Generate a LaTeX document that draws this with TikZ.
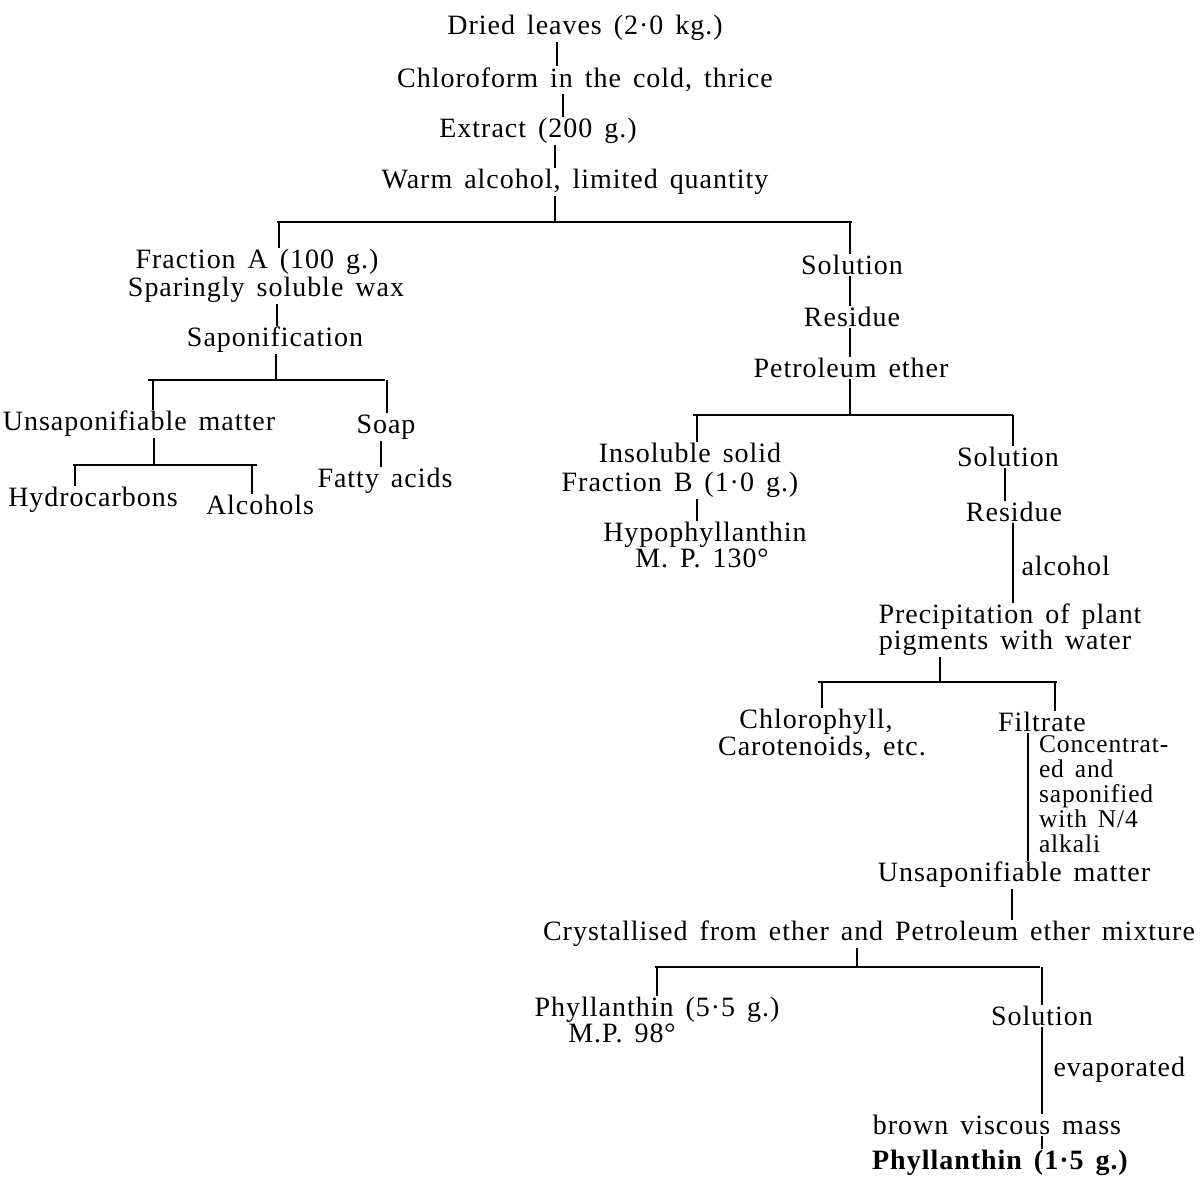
\documentclass[tikz,border=0pt]{standalone}
\usepackage{fontspec}
\setmainfont{Liberation Serif}[WordSpace=1.5,LetterSpace=3.5]
\begin{document}
\begin{tikzpicture}[x=1pt,y=-1pt,
  every node/.style={inner sep=1.5pt,outer sep=0pt,font=\fontsize{28}{26}\selectfont},
  lbl/.style={anchor=west,align=left},
  ln/.style={line width=1.2pt},
  thk/.style={line width=2.4pt}]
\useasboundingbox (0,0) rectangle (1203,1184);
% main stem
\node (d1) at (585,28) {Dried leaves (2·0 kg.)};
\node (d2) at (585,80) {Chloroform in the cold, thrice};
\node (d3) at (538,131) {Extract (200 g.)};
\node (d4) at (575,182) {Warm alcohol, limited quantity};
\draw[ln] (557,0 |- d1.south) -- (557,0 |- d2.north);
\draw[ln] (563,0 |- d2.south) -- (563,0 |- d3.north);
\draw[ln] (555,0 |- d3.south) -- (555,0 |- d4.north);
\coordinate (b1l) at (277,222);
\coordinate (b1r) at (852,222);
\coordinate (b1m) at (555,222);
\draw[ln] (555,0 |- d4.south) -- (b1m);
\draw[ln] (b1l) -- (b1r);
% left branch
\node (fa1) at (257,262) {Fraction A (100 g.)};
\node (fa2) at (266,290) {Sparingly soluble wax};
\node (sap) at (275,340) {Saponification};
\draw[ln] (279,222) -- (279,0 |- fa1.north);
\draw[ln] (277,0 |- fa2.south) -- (277,0 |- sap.north);
\coordinate (b2l) at (148,380);
\coordinate (b2r) at (385,380);
\draw[ln] (276,0 |- sap.south) -- (276,380);
\draw[ln] (b2l) -- (b2r);
\node (un) at (139,424) {Unsaponifiable matter};
\node (soap) at (386,427) {Soap};
\node (fat) at (385,481) {Fatty acids};
\draw[ln] (153,380) -- (153,0 |- un.north);
\draw[ln] (387,380) -- (387,0 |- soap.north);
\draw[ln] (381,0 |- soap.south) -- (381,0 |- fat.north);
\coordinate (b3l) at (73,465);
\coordinate (b3r) at (257,465);
\draw[ln] (154,0 |- un.south) -- (154,465);
\draw[ln] (b3l) -- (b3r);
\node (hc) at (93,500) {Hydrocarbons};
\node (al) at (260,505) {Alcohols};
\draw[ln] (75,465) -- (75,0 |- hc.north);
\draw[ln] (252,465) -- (252,0 |- al.north);
% right branch
\node (sol1) at (852,265) {Solution};
\node (res1) at (852,317) {Residue};
\node (pe) at (851,368) {Petroleum ether};
\draw[ln] (850,222) -- (850,0 |- sol1.north);
\draw[ln] (850,0 |- sol1.south) -- (850,0 |- res1.north);
\draw[ln] (850,0 |- res1.south) -- (850,0 |- pe.north);
\coordinate (b4l) at (693,415);
\coordinate (b4r) at (1013,415);
\draw[ln] (850,0 |- pe.south) -- (850,415);
\draw[ln] (b4l) -- (b4r);
\node (is) at (690,453) {Insoluble solid};
\node (fb) at (680,485) {Fraction B (1·0 g.)};
\node (hy) at (705,535) {Hypophyllanthin};
\node (mp) at (702,558) {M. P. 130°};
\draw[ln] (697,415) -- (697,0 |- is.north);
\draw[ln] (697,0 |- fb.south) -- (697,0 |- hy.north);
\node (sol2) at (1008,457) {Solution};
\node (res2) at (1014,512) {Residue};
\draw[ln] (1013,415) -- (1013,0 |- sol2.north);
\draw[ln] (1005,0 |- sol2.south) -- (1005,0 |- res2.north);
\node (pr1) at (1010,617) {Precipitation of plant};
\node (pr2) at (1005,643) {pigments with water};
\draw[thk] (1013,0 |- res2.south) -- (1013,0 |- pr1.north);
\node[lbl] (alc) at (1020,566) {alcohol};
\coordinate (b5l) at (818,682);
\coordinate (b5r) at (1057,682);
\draw[ln] (940,0 |- pr2.south) -- (940,682);
\draw[ln] (b5l) -- (b5r);
\node (ch1) at (816,722) {Chlorophyll,};
\node (ch2) at (822,748) {Carotenoids, etc.};
\node (fil) at (1042,722) {Filtrate};
\draw[ln] (822,682) -- (822,0 |- ch1.north);
\draw[ln] (1055,682) -- (1055,0 |- fil.north);
\node[lbl,anchor=north west,inner sep=0pt,font=\fontsize{25.5}{25}\selectfont] (conc) at (1039,736)
  {Concentrat-\\ ed and\\ saponified\\ with N/4\\ alkali};
\node (un2) at (1014,875) {Unsaponifiable matter};
\draw[ln] (1028,0 |- fil.south) -- (1028,0 |- un2.north);
\node (cr) at (869,934) {Crystallised from ether and Petroleum ether mixture};
\draw[ln] (1012,0 |- un2.south) -- (1012,0 |- cr.north);
\coordinate (b6l) at (655,967);
\coordinate (b6r) at (1040,967);
\draw[ln] (857,0 |- cr.south) -- (857,967);
\draw[ln] (b6l) -- (b6r);
\node (ph1) at (657,1010) {Phyllanthin (5·5 g.)};
\node (ph2) at (622,1033) {M.P. 98°};
\node (sol3) at (1042,1016) {Solution};
\draw[ln] (657,967) -- (657,0 |- ph1.north);
\draw[ln] (1042,967) -- (1042,0 |- sol3.north);
\node (bv) at (997,1125) {brown viscous mass};
\node[lbl] (ev) at (1052,1070) {evaporated};
\draw[thk] (1042,0 |- sol3.south) -- (1042,0 |- bv.north);
\node[font=\fontsize{28}{26}\selectfont\bfseries] (ph3) at (1000,1163) {Phyllanthin (1·5 g.)};
\draw[ln] (1042,0 |- bv.south) -- (1042,0 |- ph3.north);
\end{tikzpicture}
\end{document}
